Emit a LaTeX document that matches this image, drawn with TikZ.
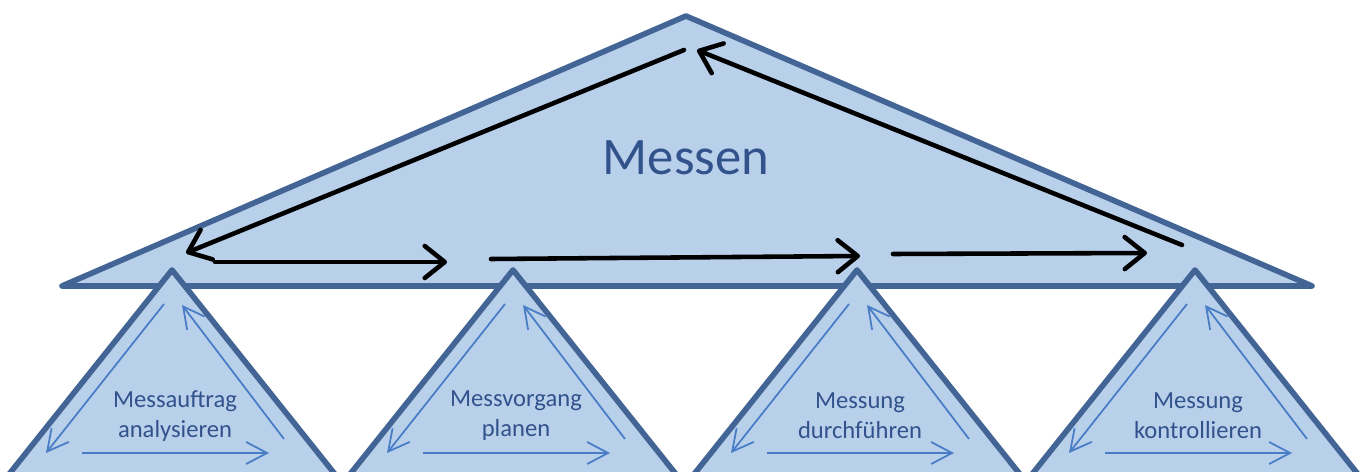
\documentclass[tikz,border=0pt]{standalone}
\usepackage{fontspec}
\setmainfont{Carlito}
\usetikzlibrary{arrows.meta}

\definecolor{triFill}{RGB}{185,208,235}
\definecolor{triLine}{RGB}{66,101,150}
\definecolor{triText}{RGB}{50,82,140}
\definecolor{innerArr}{RGB}{72,125,198}

\tikzset{
  tri/.style={fill=triFill, draw=triLine, line width=3.2pt, line join=round, line cap=round},
  bigarrow/.style={line width=2.6pt, line cap=round, -{Straight Barb[length=4mm,width=6.4mm,round]}},
  smallarrow/.style={innerArr, line width=1pt, -{Straight Barb[length=4.2mm,width=4.4mm]}},
  steplabel/.style={text=triText, font=\fontsize{14}{17}\selectfont, align=center},
}

\begin{document}
\begin{tikzpicture}[x=0.02cm, y=-0.02cm]
                    \useasboundingbox (0,0) rectangle (1365,472);
                    % big triangle
                    \coordinate (top) at (686,16);
                    \coordinate (bl) at (62,286);
                    \coordinate (br) at (1312,286);
                    \draw[tri] (top) -- (bl) -- (br) -- cycle;
                    \node[text=triText, font=\fontsize{30}{36}\selectfont] (messen) at (686,158) {Messen};
                    % cycle of the big triangle
                    \coordinate (up1) at (684,50);   \coordinate (low1) at (186,253);
                    \coordinate (up2) at (1182,245); \coordinate (low2) at (697,50);
                    \coordinate (h1a) at (215,262);  \coordinate (h1b) at (447,262);
                    \coordinate (h2a) at (491,259);  \coordinate (h2b) at (860,256);
                    \coordinate (h3a) at (893,254);  \coordinate (h3b) at (1147,253);
                    \draw[bigarrow] (up1) -- (low1);
                    \draw[bigarrow] (up2) -- (low2);
                    \draw[bigarrow] (h1a) -- (h1b);
                    \draw[bigarrow] (h2a) -- (h2b);
                    \draw[bigarrow] (h3a) -- (h3b);
                    % small triangles
                    \foreach \x/\nm/\txt in {172/ana/{Messauftrag\\analysieren},
                                             513/plan/{Messvorgang\\planen},
                                             857/durch/{Messung\\durchführen},
                                             1195/kontr/{Messung\\kontrollieren}} {
                      \begin{scope}[shift={(\x,270)}]
                        \draw[tri] (0,0) -- (-166,208) -- (166,208) -- cycle;
                        \node[steplabel] (\nm) at (3,146) {\txt};
                        \draw[smallarrow] (-8,34) -- (-126,183);
                        \draw[smallarrow] (-90,183) -- (97,183);
                        \draw[smallarrow] (112,169) -- (10,35);
                      \end{scope}
                    }
                \end{tikzpicture}
\end{document}
